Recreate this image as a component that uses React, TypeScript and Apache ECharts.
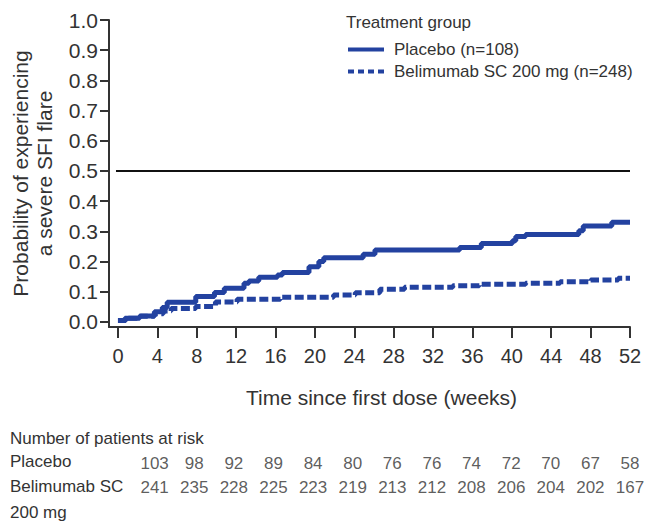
import React, { useEffect, useRef } from 'react';
import * as echarts from 'echarts';

const FONT = '"Liberation Sans", Arial, sans-serif';
const BLUE = '#2342a0';
const TEXT = '#333333';

const weekTicks = [0, 4, 8, 12, 16, 20, 24, 28, 32, 36, 40, 44, 48, 52];
const probTicks = [0, 0.1, 0.2, 0.3, 0.4, 0.5, 0.6, 0.7, 0.8, 0.9, 1.0];

const placeboName = 'Placebo (n=108)';
const belimumabName = 'Belimumab SC 200 mg (n=248)';

// Kaplan-Meier step data: [week, cumulative probability from that week on]
const placeboKM = [
  [0, 0.005], [0.7, 0.012], [2.2, 0.02], [3.7, 0.034], [4.5, 0.048], [5.0, 0.065],
  [7.9, 0.084], [9.8, 0.098], [10.8, 0.112], [12.8, 0.128], [13.3, 0.136], [14.3, 0.148],
  [16.2, 0.156], [16.7, 0.164], [19.4, 0.183], [20.4, 0.2], [20.9, 0.213], [24.9, 0.224],
  [26.1, 0.238], [34.7, 0.247], [36.9, 0.26], [40.05, 0.269], [40.4, 0.283], [41.4, 0.29],
  [46.8, 0.302], [47.25, 0.318], [50.15, 0.33], [52, 0.33],
];
const belimumabKM = [
  [0, 0.005], [0.8, 0.012], [2.3, 0.019], [3.7, 0.027], [4.6, 0.036], [5.4, 0.045],
  [7.9, 0.051], [9.9, 0.066], [12.1, 0.075], [16.5, 0.082], [21.9, 0.089], [24.1, 0.097],
  [26.6, 0.108], [29.1, 0.115], [34.0, 0.12], [36.7, 0.125], [41.4, 0.128], [44.9, 0.133],
  [48.0, 0.139], [50.8, 0.145], [52, 0.145],
];

const atRiskWeeks = [4, 8, 12, 16, 20, 24, 28, 32, 36, 40, 44, 48, 52];
const placeboAtRisk = [103, 98, 92, 89, 84, 80, 76, 76, 74, 72, 70, 67, 58];
const belimumabAtRisk = [241, 235, 228, 225, 223, 219, 213, 212, 208, 206, 204, 202, 167];

const tableTitle = 'Number of patients at risk';
const tableRowLabels = ['Placebo', 'Belimumab SC', '200 mg'];

function buildOption() {
  const axisLine = { show: true, onZero: false, lineStyle: { color: TEXT, width: 2 } };
  const riskLabel = {
    show: true,
    position: 'inside',
    fontSize: 17,
    fontFamily: FONT,
    color: TEXT,
    formatter: (p: any) => String(p.value[2]),
  };
  const hiddenSymbol = { color: 'transparent', borderWidth: 0, opacity: 0 };
  return {
    animation: false,
    backgroundColor: '#ffffff',
    textStyle: { fontFamily: FONT },
    grid: [
      { left: 106, right: 17, top: 20, bottom: 198 },
      { left: 106, right: 17, top: 463, height: 24 },
    ],
    xAxis: [
      {
        gridIndex: 0,
        type: 'value',
        min: -0.91,
        max: 52,
        axisLine,
        axisTick: { show: true, length: 11, customValues: weekTicks, lineStyle: { color: TEXT, width: 2 } },
        axisLabel: { customValues: weekTicks, margin: 19, fontSize: 20, color: TEXT, fontFamily: FONT },
        splitLine: { show: false },
        name: 'Time since first dose (weeks)',
        nameLocation: 'middle',
        nameGap: 60,
        nameTextStyle: { fontSize: 21, color: TEXT, fontFamily: FONT, padding: [0, 0, 0, 24] },
      },
      { gridIndex: 1, type: 'value', min: -0.91, max: 52, show: false },
    ],
    yAxis: [
      {
        gridIndex: 0,
        type: 'value',
        min: -0.0166,
        max: 1,
        axisLine,
        axisTick: { show: true, length: 9, customValues: probTicks, lineStyle: { color: TEXT, width: 2 } },
        axisLabel: {
          customValues: probTicks,
          formatter: (v: number) => v.toFixed(1),
          margin: 11,
          fontSize: 21,
          color: TEXT,
          fontFamily: FONT,
        },
        splitLine: { show: false },
        name: 'Probability of experiencing\na severe SFI flare',
        nameLocation: 'middle',
        nameRotate: 90,
        nameGap: 53,
        nameTextStyle: { fontSize: 21, lineHeight: 24, color: TEXT, fontFamily: FONT, align: 'center' },
      },
      { gridIndex: 1, type: 'value', min: 0, max: 1, show: false },
    ],
    legend: {
      orient: 'vertical',
      left: 346,
      top: 41,
      padding: 0,
      itemWidth: 36,
      itemHeight: 12,
      itemGap: 5,
      textStyle: { fontSize: 17, color: TEXT, fontFamily: FONT, padding: [0, 0, 0, 5] },
      data: [
        { name: placeboName, lineStyle: { width: 4 }, itemStyle: hiddenSymbol },
        { name: belimumabName, lineStyle: { width: 4, type: [6, 4] }, itemStyle: hiddenSymbol },
      ],
    },
    graphic: [
      { type: 'text', left: 346, top: 14, style: { text: 'Treatment group', fontSize: 17, fontFamily: FONT, fill: TEXT } },
      { type: 'text', left: 10, top: 430, style: { text: tableTitle, fontSize: 17, fontFamily: FONT, fill: TEXT } },
      { type: 'text', left: 10, top: 453, style: { text: tableRowLabels[0], fontSize: 17, fontFamily: FONT, fill: TEXT } },
      { type: 'text', left: 10, top: 478, style: { text: tableRowLabels[1], fontSize: 17, fontFamily: FONT, fill: TEXT } },
      { type: 'text', left: 10, top: 504, style: { text: tableRowLabels[2], fontSize: 17, fontFamily: FONT, fill: TEXT } },
    ],
    series: [
      {
        type: 'line',
        name: belimumabName,
        data: belimumabKM,
        step: 'end',
        symbol: 'none',
        itemStyle: { color: BLUE },
        lineStyle: { color: BLUE, width: 5, type: [9, 3.5] },
      },
      {
        type: 'line',
        name: placeboName,
        data: placeboKM,
        step: 'end',
        symbol: 'none',
        itemStyle: { color: BLUE },
        lineStyle: { color: BLUE, width: 5 },
        markLine: {
          silent: true,
          symbol: 'none',
          label: { show: false },
          lineStyle: { color: '#111111', width: 2, type: 'solid' },
          data: [[{ coord: [-0.2, 0.5] }, { coord: [52, 0.5] }]],
        },
      },
      {
        type: 'scatter',
        xAxisIndex: 1,
        yAxisIndex: 1,
        symbolSize: 1,
        itemStyle: { color: 'transparent' },
        label: riskLabel,
        data: atRiskWeeks.map((w, i) => [w, 1, placeboAtRisk[i]]),
      },
      {
        type: 'scatter',
        xAxisIndex: 1,
        yAxisIndex: 1,
        symbolSize: 1,
        itemStyle: { color: 'transparent' },
        label: riskLabel,
        data: atRiskWeeks.map((w, i) => [w, 0, belimumabAtRisk[i]]),
      },
    ],
  };
}

export default function App() {
  const ref = useRef<HTMLDivElement>(null);
  useEffect(() => {
    if (!ref.current) return;
    const chart = echarts.init(ref.current, null, { renderer: 'svg' });
    chart.setOption(buildOption() as any);
    return () => chart.dispose();
  }, []);
  return (
    <div
      ref={ref}
      style={{ position: 'fixed', left: 0, top: 0, width: 647, height: 525, background: '#ffffff' }}
    />
  );
}
